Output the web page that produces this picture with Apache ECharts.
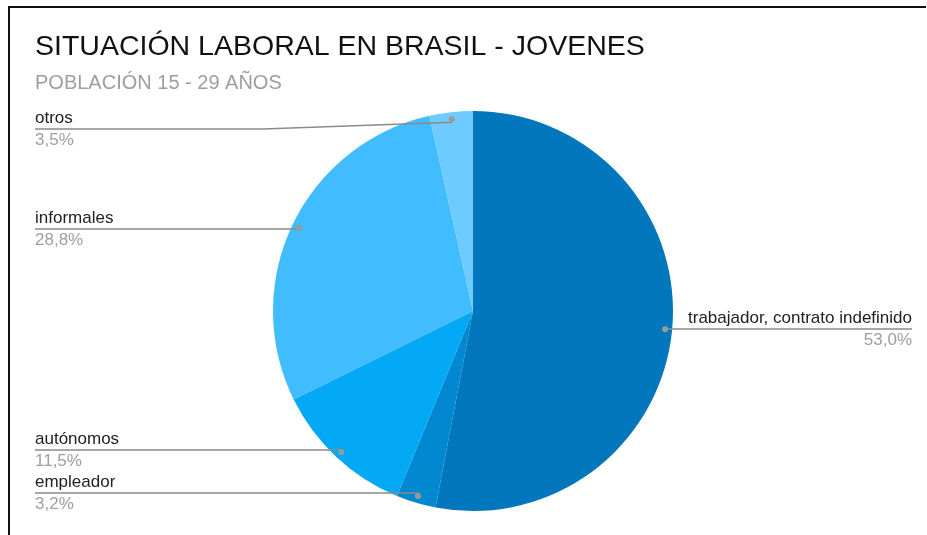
<!DOCTYPE html>
<html>
<head>
<meta charset="utf-8">
<script src="https://cdn.jsdelivr.net/npm/echarts@6/dist/echarts.min.js"></script>
<style>
html,body{margin:0;padding:0;background:#fff;}
#chart{width:927px;height:535px;}
</style>
</head>
<body>
<div id="chart"></div>
<script>
const titleText = 'SITUACIÓN LABORAL EN BRASIL - JOVENES';
const subtitleText = 'POBLACIÓN 15 - 29 AÑOS';
const categories = ['trabajador, contrato indefinido', 'empleador', 'autónomos', 'informales', 'otros'];
const values = [53.0, 3.2, 11.5, 28.8, 3.5];
const colors = ['#0277BD', '#0288D1', '#03A9F4', '#40BCFF', '#6ECBFF'];

const CX = 473, CY = 311, R = 200;
const DOT_R = R * 0.95;
const LEFT_X = 35, RIGHT_X = 912, MIN_LINE_Y = 129;
const FONT = 'Arial, "Liberation Sans", sans-serif';

const total = values.reduce((a, b) => a + b, 0);
function midAngle(i) {
  let before = 0;
  for (let k = 0; k < i; k++) before += values[k];
  const frac = (before + values[i] / 2) / total;
  return frac * 2 * Math.PI; // clockwise from top
}
function dotPoint(i) {
  const a = midAngle(i);
  return [CX + DOT_R * Math.sin(a), CY - DOT_R * Math.cos(a)];
}
function fmtPct(v) { return v.toFixed(1).replace('.', ',') + '%'; }

const sliceData = categories.map((c, i) => ({ name: c, value: values[i], itemStyle: { color: colors[i] } }));
const plainData = categories.map((c, i) => ({ name: c, value: values[i] }));

const chart = echarts.init(document.getElementById('chart'), null, { renderer: 'canvas' });
chart.setOption({
  animation: false,
  backgroundColor: '#ffffff',
  title: [
    { text: titleText, left: 35, top: 33, padding: 0,
      textStyle: { fontFamily: FONT, fontSize: 28.5, fontWeight: 'normal', color: '#111' } },
    { text: subtitleText, left: 35, top: 73, padding: 0,
      textStyle: { fontFamily: FONT, fontSize: 20, fontWeight: 'normal', color: '#9e9e9e' } }
  ],
  graphic: [
    { type: 'line', shape: { x1: 8, y1: 7, x2: 926, y2: 7 }, style: { stroke: '#111', lineWidth: 2 } },
    { type: 'line', shape: { x1: 9, y1: 6, x2: 9, y2: 535 }, style: { stroke: '#111', lineWidth: 2 } }
  ],
  series: [
    {
      type: 'pie',
      center: [CX, CY],
      radius: [0, R],
      startAngle: 90,
      clockwise: true,
      data: sliceData,
      silent: true,
      z: 2,
      itemStyle: { borderWidth: 0 },
      label: { show: false },
      labelLine: { show: false }
    },
    {
      type: 'pie',
      center: [CX, CY],
      radius: [0, R],
      startAngle: 90,
      clockwise: true,
      data: plainData,
      silent: true,
      z: 5,
      itemStyle: { color: 'rgba(0,0,0,0)', borderWidth: 0 },
      label: {
        show: true,
        position: 'outside',
        overflow: 'none',
        fontFamily: FONT,
        formatter: p => '{n|' + p.name + '}\n{p|' + fmtPct(p.value) + '}',
        rich: {
          n: { fontSize: 17, color: '#222', lineHeight: 22, fontFamily: FONT },
          p: { fontSize: 17, color: '#9e9e9e', lineHeight: 22, fontFamily: FONT }
        }
      },
      labelLine: { show: true, lineStyle: { color: '#8a8a8a', width: 1.5 } },
      labelLayout: function (params) {
        const i = params.dataIndex;
        const d = dotPoint(i);
        const lineY = Math.max(d[1], MIN_LINE_Y);
        if (d[0] < CX) {
          const bendX = CX - R - 10;
          return {
            x: LEFT_X, y: lineY, align: 'left', verticalAlign: 'middle',
            labelLinePoints: [[d[0], d[1]], [bendX, lineY], [LEFT_X, lineY]]
          };
        } else {
          const bendX = CX + R + 10;
          return {
            x: RIGHT_X, y: lineY, align: 'right', verticalAlign: 'middle',
            labelLinePoints: [[d[0], d[1]], [bendX, lineY], [RIGHT_X, lineY]]
          };
        }
      }
    },
    {
      type: 'pie',
      center: [CX, CY],
      radius: [R * 0.9, R],
      startAngle: 90,
      clockwise: true,
      silent: true,
      z: 6,
      data: plainData,
      itemStyle: { color: 'rgba(0,0,0,0)', borderWidth: 0 },
      label: {
        show: true,
        position: 'inside',
        formatter: '{d|}',
        rich: { d: { width: 6, height: 6, borderRadius: 3, backgroundColor: '#9a9a9a' } }
      },
      labelLine: { show: false }
    }
  ]
});
</script>
</body>
</html>
